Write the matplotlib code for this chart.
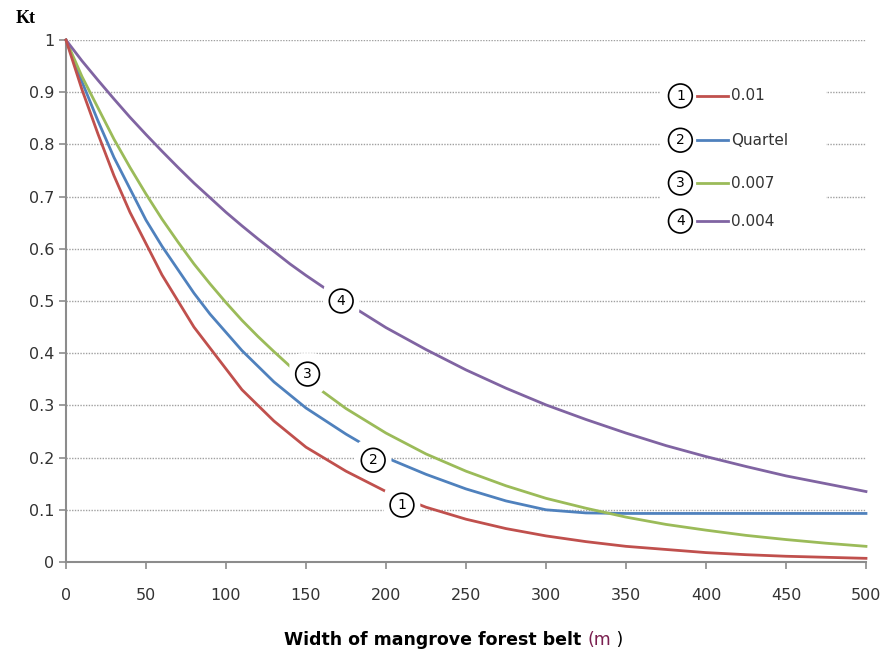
import matplotlib
matplotlib.use("Agg")
import matplotlib.pyplot as plt
from matplotlib.patches import Rectangle
from matplotlib.ticker import FormatStrFormatter

# values
width_m = [0, 10, 20, 30, 40, 50, 60, 70, 80, 90, 100, 110, 120, 130, 140, 150,
           175, 200, 225, 250, 275, 300, 325, 350, 375, 400, 425, 450, 475, 500]
kt_001 = [1.0, 0.905, 0.82, 0.74, 0.67, 0.61, 0.55, 0.50, 0.45, 0.41, 0.37,
          0.33, 0.30, 0.27, 0.245, 0.22, 0.174, 0.135, 0.105, 0.082, 0.064,
          0.05, 0.039, 0.03, 0.024, 0.018, 0.014, 0.011, 0.009, 0.007]
kt_quartel = [1.0, 0.92, 0.845, 0.775, 0.715, 0.655, 0.605, 0.56, 0.515, 0.475,
              0.44, 0.405, 0.375, 0.345, 0.32, 0.295, 0.245, 0.20, 0.168, 0.14,
              0.117, 0.10, 0.094, 0.093, 0.093, 0.093, 0.093, 0.093, 0.093, 0.093]
kt_0007 = [1.0, 0.93, 0.87, 0.81, 0.756, 0.705, 0.657, 0.613, 0.571, 0.533,
           0.497, 0.463, 0.432, 0.403, 0.375, 0.35, 0.294, 0.247, 0.207, 0.174,
           0.146, 0.122, 0.103, 0.086, 0.072, 0.061, 0.051, 0.043, 0.036, 0.03]
kt_0004 = [1.0, 0.96, 0.923, 0.887, 0.852, 0.819, 0.787, 0.756, 0.726, 0.698,
           0.67, 0.644, 0.619, 0.595, 0.571, 0.549, 0.497, 0.449, 0.407, 0.368,
           0.333, 0.301, 0.273, 0.247, 0.223, 0.202, 0.183, 0.165, 0.15, 0.135]

series = [kt_001, kt_quartel, kt_0007, kt_0004]
names = ["0.01", "Quartel", "0.007", "0.004"]
colors = ["#C0504D", "#4F81BD", "#9BBB59", "#8064A2"]
# where the circled numbers sit on the curves
tag_x = [210, 192, 151, 172]
tag_y = [0.109, 0.195, 0.36, 0.50]
# red sits above the "2" gap so it isn't cut
line_z = [4, 3, 3, 3]

fig = plt.figure(figsize=(8.88, 6.58), dpi=100)
ax = fig.add_axes([0.0743, 0.1459, 0.9009, 0.7933])

for vals, c, z in zip(series, colors, line_z):
    ax.plot(width_m, vals, color=c, lw=2, zorder=z, clip_on=False,
            solid_joinstyle='round')

ax.set_xlim(0, 500)
ax.set_ylim(0, 1)
ax.set_xticks(range(0, 501, 50))
ax.set_yticks([i / 10 for i in range(11)])
ax.yaxis.set_major_formatter(FormatStrFormatter('%g'))
ax.grid(axis='y', color='#a0a0a0', linestyle=(0, (1, 1)), lw=1)
ax.set_axisbelow(True)
for s in ['top', 'right']:
    ax.spines[s].set_visible(False)
for s in ['left', 'bottom']:
    ax.spines[s].set_color('#8c8c8c')
    ax.spines[s].set_linewidth(1.5)
ax.tick_params(colors='#8c8c8c', labelcolor='#333333', labelsize=11.5,
               length=5, width=1.2)
ax.tick_params(axis='x', pad=14)

# circled numbers on the curves, with a white gap in the line
for i in range(4):
    ax.text(tag_x[i], tag_y[i], str(i + 1), ha='center', va='center',
            fontsize=10, zorder=line_z[i] + 0.5,
            bbox=dict(boxstyle='round,pad=1.0', fc='white', ec='none'))
    ax.text(tag_x[i], tag_y[i], str(i + 1), ha='center', va='center',
            fontsize=10, zorder=10,
            bbox=dict(boxstyle='circle,pad=0.35', fc='white', ec='black', lw=1.2))

# legend drawn by hand like the original
ax.add_patch(Rectangle((0.742, 0.62), 0.208, 0.32, transform=ax.transAxes,
                       fc='white', ec='none', zorder=2))
leg_y = [0.893, 0.808, 0.726, 0.653]
for i in range(4):
    yy = leg_y[i]
    ax.text(0.768, yy, str(i + 1), transform=ax.transAxes, ha='center',
            va='center', fontsize=10, zorder=10,
            bbox=dict(boxstyle='circle,pad=0.35', fc='white', ec='black', lw=1.2))
    ax.plot([0.789, 0.828], [yy, yy], transform=ax.transAxes, color=colors[i],
            lw=2, zorder=10)
    ax.text(0.831, yy, names[i], transform=ax.transAxes, ha='left',
            va='center', fontsize=11, color='#333333', zorder=10)

fig.text(0.018, 0.972, "Kt", family='Liberation Serif', fontweight='bold',
         fontsize=13, ha='left', va='center')

# x axis title, with "(m" in a dark red like the reference
t1 = fig.text(0.32, 0.027, "Width of mangrove forest belt ", fontweight='bold',
              fontsize=12.5, ha='left', va='center')
fig.canvas.draw()
bb = t1.get_window_extent()
x2 = bb.x1 / fig.bbox.width
t2 = fig.text(x2, 0.027, "(m", fontsize=12.5, color='#7a1f4f', ha='left', va='center')
bb2 = t2.get_window_extent(renderer=fig.canvas.get_renderer())
fig.text(bb2.x1 / fig.bbox.width, 0.027, " )", fontsize=12.5, ha='left', va='center')

fig.savefig("out.png", dpi=100)
